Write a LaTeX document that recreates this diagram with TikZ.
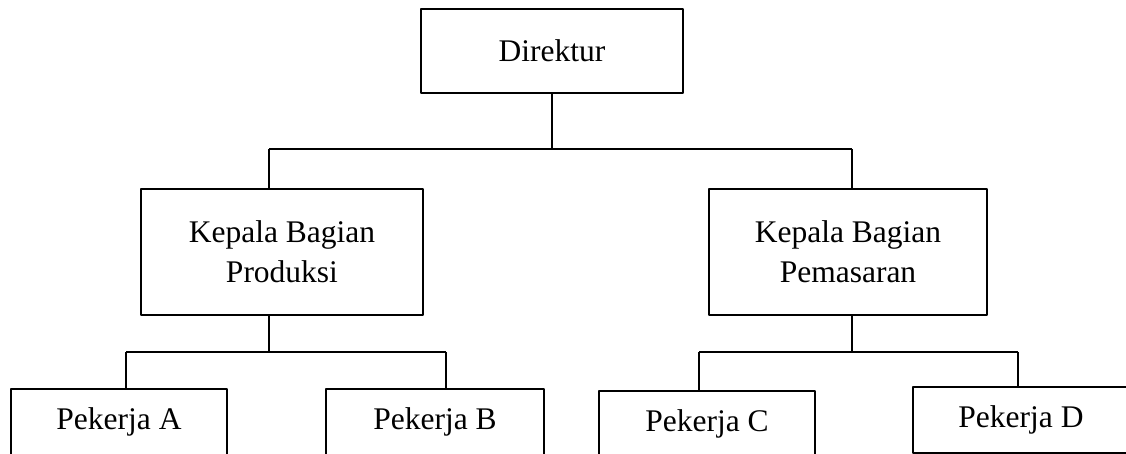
\documentclass[tikz,border=0pt]{standalone}
\usepackage{fontspec}
\setmainfont{Liberation Serif}
\begin{document}
\begin{tikzpicture}[x=0.5pt, y=0.5pt, line width=0.8pt, line join=round,
	box/.style={draw, rectangle, inner sep=0pt, align=center, font=\fontsize{15.75}{20}\selectfont}]
	\clip (0,0) rectangle (1126,454);
	% kotak
	\node[box, minimum width=131pt, minimum height=42pt] (dir) at (552,403) {Direktur};
	\node[box, minimum width=141pt, minimum height=63pt] (kprod) at (282,202) {Kepala Bagian\\Produksi};
	\node[box, minimum width=139pt, minimum height=63pt] (kpem) at (848,202) {Kepala Bagian\\Pemasaran};
	\node[box, minimum width=108pt, minimum height=33pt] (pa) at (119,32) {Pekerja A};
	\node[box, minimum width=109pt, minimum height=33pt] (pb) at (435,32) {Pekerja B};
	\node[box, minimum width=108pt, minimum height=33pt] (pc) at (707,30) {Pekerja C};
	\node[box, minimum width=108pt, minimum height=33pt] (pd) at (1021,34) {Pekerja D};
	% garis
	\coordinate (t1) at (269,305);
	\coordinate (t2) at (852,305);
	\coordinate (p1) at (126,102);
	\coordinate (p2) at (446,102);
	\coordinate (m1) at (699,102);
	\coordinate (m2) at (1018,102);
	\draw (dir) -- (dir |- t1);
	\draw (t1) -- (t2) (t1) -- (t1 |- kprod.north) (t2) -- (t2 |- kpem.north);
	\draw (t1 |- kprod.south) -- (t1 |- p1);
	\draw (p1) -- (p2) (p1) -- (p1 |- pa.north) (p2) -- (p2 |- pb.north);
	\draw (t2 |- kpem.south) -- (t2 |- m1);
	\draw (m1) -- (m2) (m1) -- (m1 |- pc.north) (m2) -- (m2 |- pd.north);
\end{tikzpicture}
\end{document}
